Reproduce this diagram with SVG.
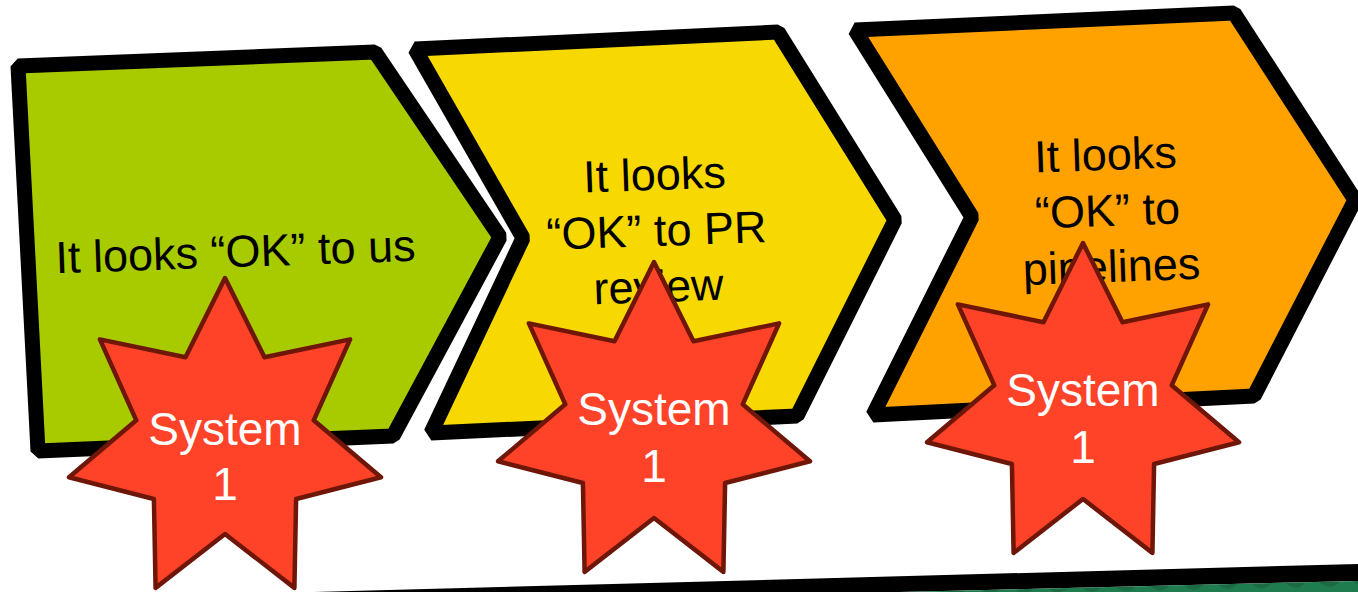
<svg xmlns="http://www.w3.org/2000/svg" xmlns:xlink="http://www.w3.org/1999/xlink" width="1358" height="592" viewBox="0 0 1358 592">
<style>
.chev{stroke:#000;stroke-width:15;stroke-linejoin:bevel}
.label{font-family:"Liberation Sans","DejaVu Sans",sans-serif;font-size:45px;fill:#000;text-anchor:middle}
.star{fill:#FF4328;stroke:#6E1608;stroke-width:4.5;stroke-linejoin:round}
.stext{font-family:"Liberation Sans","DejaVu Sans",sans-serif;font-size:46px;fill:#fff;text-anchor:middle}
</style>
<defs>
<polygon id="starShape" points="0,-163 39.5,-83.8 125.1,-101.6 88.7,-20.7 156,36.3 71.1,58 69.4,146.9 0,93 -69.4,146.9 -71.1,58 -156,36.3 -88.7,-20.7 -125.1,-101.6 -39.5,-83.8"/>
<pattern id="wave" width="34" height="30" patternUnits="userSpaceOnUse" patternTransform="rotate(-1.2)">
<rect width="34" height="30" fill="#1F7C4F"/>
<path d="M0,8 Q8.5,0 17,8 T34,8" fill="none" stroke="#1A6A44" stroke-width="5"/>
</pattern>
</defs>
<rect width="1358" height="592" fill="#fff"/>
<g id="ground">
<polygon points="314,592 1358,564 1358,581 899,592" fill="#000"/>
<polygon points="899,592 1358,581 1358,592" fill="url(#wave)"/>
</g>
<g id="connectors"></g>
<g id="node-us">
<polygon class="chev" fill="#A8CB00" points="18,66 375,52 500,237 393,436 38,451"/>
<text class="label" transform="rotate(-2 236 267)" x="236" y="267">It looks “OK” to us</text>
</g>
<g id="node-pr">
<polygon class="chev" fill="#F7D800" points="415,49 778,32 895,220 797,416 431,433 523,238"/>
<text class="label" transform="rotate(-2 657 245)"><tspan x="657" y="190">It looks</tspan><tspan x="657" y="246">“OK” to PR</tspan><tspan x="657" y="302">review</tspan></text>
</g>
<g id="node-pipelines">
<polygon class="chev" fill="#FFA200" points="855,30 1234,13 1355,200 1254,396 873,415 972,217"/>
<text class="label" transform="rotate(-2 1108 226)"><tspan x="1108" y="170">It looks</tspan><tspan x="1108" y="226">“OK” to</tspan><tspan x="1110" y="282">pipelines</tspan></text>
</g>
<g id="star-1">
<use xlink:href="#starShape" href="#starShape" class="star" x="225" y="441"/>
<text class="stext"><tspan x="225" y="445">System</tspan><tspan x="225" y="500">1</tspan></text>
</g>
<g id="star-2">
<use xlink:href="#starShape" href="#starShape" class="star" x="654" y="425"/>
<text class="stext"><tspan x="654" y="425">System</tspan><tspan x="654" y="482">1</tspan></text>
</g>
<g id="star-3">
<use xlink:href="#starShape" href="#starShape" class="star" x="1083" y="406"/>
<text class="stext"><tspan x="1083" y="406">System</tspan><tspan x="1083" y="463">1</tspan></text>
</g>
</svg>
